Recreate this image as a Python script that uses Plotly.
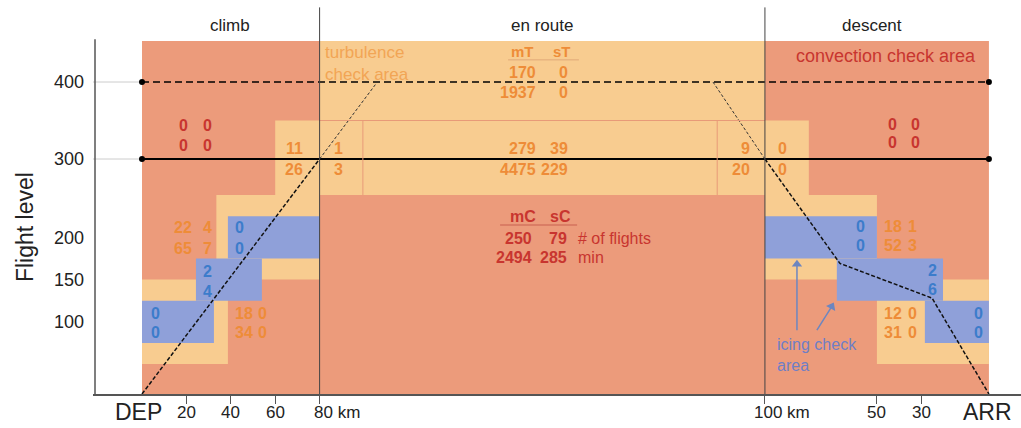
import numpy as np
import plotly.graph_objects as go

# ---------------- data ----------------
fl_ticks = [100, 150, 200, 300, 400]
climb_tick_km = [20, 40, 60]          # km from DEP
desc_tick_km = [50, 30]               # km to ARR

# flight profile (km, FL)
climb_path_km, climb_path_fl = [0, 80], [0, 300]
climb_ext_km, climb_ext_fl = [80, 106], [300, 400]
desc_path_km, desc_path_fl = [100, 66.5, 25.4, 0], [300, 169, 128, 0]
desc_ext_km, desc_ext_fl = [123.2, 100], [400, 300]

# check areas: (km from, km to, FL from, FL to)
climb_turb = [(0, 38.7, 50, 150), (33.5, 80, 150, 250), (60, 80, 250, 350)]
climb_ice = [(0, 32.4, 75, 125), (24.3, 54, 125, 175), (38.7, 80, 175, 225)]
desc_turb = [(100, 80.4, 250, 350), (100, 50, 150, 250), (50, 0, 50, 150)]
desc_ice = [(100, 50, 175, 225), (67.9, 20.5, 125, 175), (28.6, 0, 75, 125)]

# counts: (km, FL row1, FL row2, [row1, row2], colour)
climb_counts = [
    (18.5, 343, 317, ["0", "0"], "red"), (29.3, 343, 317, ["0", "0"], "red"),
    (68.5, 313, 286, ["11", "26"], "orange"),
    (18.5, 211, 187, ["22", "65"], "orange"), (29.3, 211, 187, ["4", "7"], "orange"),
    (43.7, 211, 187, ["0", "0"], "blue"),
    (29.3, 160, 136, ["2", "4"], "blue"),
    (5.9, 110, 87, ["0", "0"], "blue"),
    (46.0, 110, 87, ["18", "34"], "orange"), (54.5, 110, 87, ["0", "0"], "orange"),
]
desc_counts = [
    (43.0, 345, 321, ["0", "0"], "red"), (33.0, 345, 321, ["0", "0"], "red"),
    (92.0, 313, 286, ["0", "0"], "orange"),
    (57.4, 213, 190, ["0", "0"], "blue"),
    (43.0, 213, 190, ["18", "52"], "orange"), (34.0, 213, 190, ["1", "3"], "orange"),
    (25.0, 161, 138, ["2", "6"], "blue"),
    (43.0, 110, 87, ["12", "31"], "orange"), (34.0, 110, 87, ["0", "0"], "orange"),
    (4.5, 110, 87, ["0", "0"], "blue"),
]
enroute_T_hi = [["170", "0"], ["1937", "0"]]
enroute_T_mid = [["279", "39"], ["4475", "229"]]
enroute_T_left = ["1", "3"]
enroute_T_right = ["9", "20"]
enroute_C = [["250", "79", "# of flights"], ["2494", "285", "min"]]

# ---------------- styling / scales ----------------
SALMON = "#EC9B7B"
PEACH = "#F8CC90"
BLUE = "#8FA0D9"
C_OR = "#EE8C38"
C_RED = "#C8352F"
C_BLUE = "#3C7CCB"
C_ICE = "#6F7EC6"
TXT = "#222222"
FONT = "Liberation Sans, Arial, sans-serif"
COL = {"red": C_RED, "orange": C_OR, "blue": C_BLUE}
NUM = 16

KM_PX = 2.22
X_ARR = 381.5
DESC_K = 2.24 / KM_PX
X_ENR0 = 80.0
X_ENR1 = X_ARR - 100 * DESC_K

# schematic (non-linear) flight-level scale
FLK = [0, 50, 250, 300, 400, 450, 500]
PXK = [394, 364, 195, 159, 82, 41, 0]
YK = [394 - p for p in PXK]


def fy(fl):
    return float(np.interp(fl, FLK, YK))


def xd(d):
    return X_ARR - d * DESC_K


W, H = 1021, 428
ML, MB = 93, 34
x0 = (ML - 142) / KM_PX
x1 = (W - 142) / KM_PX

fig = go.Figure()
shapes = []


def rect(xa, xb, fa, fb, color):
    shapes.append(dict(type="rect", xref="x", yref="y", x0=xa, x1=xb,
                       y0=fy(fa), y1=fy(fb), fillcolor=color,
                       line=dict(width=0), layer="below"))


# background (convection check area)
rect(0, X_ARR, 0, 450, SALMON)
# en-route turbulence check area
rect(X_ENR0, X_ENR1, 250, 450, PEACH)
for a, b, fa, fb in climb_turb:
    rect(a, b, fa, fb, PEACH)
for a, b, fa, fb in desc_turb:
    rect(xd(a), xd(b), fa, fb, PEACH)
for a, b, fa, fb in climb_ice:
    rect(a, b, fa, fb, BLUE)
for a, b, fa, fb in desc_ice:
    rect(xd(a), xd(b), fa, fb, BLUE)


def line(xa, ya, xb, yb, color, width=1, dash=None, layer="above"):
    d = dict(color=color, width=width)
    if dash:
        d["dash"] = dash
    shapes.append(dict(type="line", xref="x", yref="y", x0=xa, x1=xb,
                       y0=ya, y1=yb, line=d, layer=layer))


# thin box lines in en-route
LC = "#E89A78"
line(X_ENR0, fy(350), X_ENR1, fy(350), LC, 1)
line(X_ENR0 + 19.5, fy(350), X_ENR0 + 19.5, fy(250), LC, 1)
line(X_ENR1 - 21.5, fy(350), X_ENR1 - 21.5, fy(250), LC, 1)

# light grid stubs
for fl in (300, 400):
    line(x0, fy(fl), 0, fy(fl), "#CCCCCC", 1, layer="below")

# y-axis line
line(x0 + 0.9, fy(0), x0 + 0.9, fy(452), "#555555", 1.5)
# phase dividers
line(X_ENR0, fy(0), X_ENR0, fy(491), "#444444", 1)
line(X_ENR1, fy(0), X_ENR1, fy(491), "#444444", 1)

# underline of table heads
line(164.9, fy(427), 196.8, fy(427), "#E0A878", 1)
line(161.3, fy(214.5), 196.0, fy(214.5), "#C86050", 1.2)

# arrows pointing to the icing area (shaft as line, head as marker)
ARROW = "#6C86C0"
arrows = [((85.7, 90), (85.7, 168)), ((76.8, 90), (70.2, 118))]
for (dt, ft), (dh, fh) in arrows:
    line(xd(dt), fy(ft), xd(dh), fy(fh), ARROW, 1.5)
hx = [xd(h[0]) for _, h in arrows]
hy = [fy(h[1]) for _, h in arrows]
fig.add_trace(go.Scatter(x=hx, y=hy, mode="markers", hoverinfo="skip",
                         marker=dict(symbol="triangle-up", size=9, color=ARROW,
                                     angle=[0, 28], line=dict(width=0))))

# reference levels FL400 (dashed) / FL300 (solid)
fig.add_trace(go.Scatter(x=[0, X_ARR], y=[fy(400), fy(400)], mode="lines+markers",
                         line=dict(color="black", width=1.6, dash="7px,4px"),
                         marker=dict(size=6, color="black"), hoverinfo="skip"))
fig.add_trace(go.Scatter(x=[0, X_ARR], y=[fy(300), fy(300)], mode="lines+markers",
                         line=dict(color="black", width=2),
                         marker=dict(size=6, color="black"), hoverinfo="skip"))

# flight profile
fig.add_trace(go.Scatter(x=climb_path_km, y=[fy(v) for v in climb_path_fl], mode="lines",
                         line=dict(color="#111111", width=1.5, dash="4px,2px"), hoverinfo="skip"))
fig.add_trace(go.Scatter(x=[xd(d) for d in desc_path_km], y=[fy(v) for v in desc_path_fl],
                         mode="lines", line=dict(color="#111111", width=1.5, dash="4px,2px"),
                         hoverinfo="skip"))
fig.add_trace(go.Scatter(x=climb_ext_km, y=[fy(v) for v in climb_ext_fl], mode="lines",
                         line=dict(color="#333333", width=1, dash="3px,2px"), hoverinfo="skip"))
fig.add_trace(go.Scatter(x=[xd(d) for d in desc_ext_km], y=[fy(v) for v in desc_ext_fl],
                         mode="lines", line=dict(color="#333333", width=1, dash="3px,2px"),
                         hoverinfo="skip"))

ann = []


def txt(x, fl, s, color, size=NUM, bold=True, xanchor="center", yref="y", xref="x",
        align="center"):
    ann.append(dict(x=x, y=fy(fl) if yref == "y" else fl, xref=xref, yref=yref,
                    text=f"<b>{s}</b>" if bold else s, showarrow=False,
                    xanchor=xanchor, yanchor="middle", align=align,
                    font=dict(family=FONT, size=size, color=color)))


for km, f1, f2, vals, c in climb_counts:
    txt(km, f1, vals[0], COL[c])
    txt(km, f2, vals[1], COL[c])
for d, f1, f2, vals, c in desc_counts:
    txt(xd(d), f1, vals[0], COL[c])
    txt(xd(d), f2, vals[1], COL[c])

# en-route turbulence table
txt(171.6, 437, "mT", C_OR, 15)
txt(189.2, 437, "sT", C_OR, 15)
for row, fl in zip(enroute_T_hi, (411, 386)):
    txt(178.4, fl, row[0], C_OR, xanchor="right")
    txt(193.0, fl, row[1], C_OR, xanchor="right")
for row, fl in zip(enroute_T_mid, (313, 286)):
    txt(178.4, fl, row[0], C_OR, xanchor="right")
    txt(193.0, fl, row[1], C_OR, xanchor="right")
for v, fl in zip(enroute_T_left, (313, 286)):
    txt(88.3, fl, v, C_OR)
for v, fl in zip(enroute_T_right, (313, 286)):
    txt(274.6, fl, v, C_OR, xanchor="right")

# en-route convection table
txt(171.6, 224, "mC", C_RED)
txt(188.7, 224, "sC", C_RED)
for row, fl in zip(enroute_C, (199, 176.6)):
    txt(176.6, fl, row[0], C_RED, xanchor="right")
    txt(192.2, fl, row[1], C_RED, xanchor="right")
    txt(195.5, fl, row[2], C_RED, bold=False, xanchor="left")

# area labels
txt(81.5, 423, "turbulence<br>check area", "#F2A555", 17, bold=False,
    xanchor="left", align="left")
txt(xd(4.9), 432, "convection check area", C_RED, 18, bold=False, xanchor="right")
txt(xd(95.5), 60.5, "icing check<br>area", C_ICE, 16, bold=False,
    xanchor="left", align="left")

# phase headers
txt(39.6, 469.5, "climb", TXT, 17, bold=False)
txt(180.0, 469.5, "en route", TXT, 17, bold=False)
txt(xd(52.2), 469.5, "descent", TXT, 17, bold=False)

# x labels
ylab = (394 - 412) / 394
txt(-1.5, ylab, "DEP", TXT, 23, bold=False, yref="paper")
txt(X_ARR - 0.5, ylab, "ARR", TXT, 23, bold=False, yref="paper")
for k in climb_tick_km:
    txt(k, ylab, str(k), TXT, 17, bold=False, yref="paper")
for k in desc_tick_km:
    txt(xd(k), ylab, str(k), TXT, 17, bold=False, yref="paper")
txt(X_ENR0 - 3.6, ylab, "80 km", TXT, 17, bold=False, xanchor="left", yref="paper")
txt(X_ENR1 - 5.8, ylab, "100 km", TXT, 17, bold=False, xanchor="left", yref="paper")

# y title
ann.append(dict(x=(25 - ML) / (W - ML), y=fy(212), xref="paper", yref="y",
                text="Flight level", showarrow=False, textangle=-90,
                xanchor="center", yanchor="middle",
                font=dict(family=FONT, size=23, color=TXT)))

xtick_vals = climb_tick_km + [X_ENR0, X_ENR1] + [xd(k) for k in desc_tick_km]

fig.update_layout(
    width=W, height=H, margin=dict(l=ML, r=0, t=0, b=MB),
    paper_bgcolor="white", plot_bgcolor="white", showlegend=False,
    shapes=shapes, annotations=ann,
    xaxis=dict(range=[x0, x1], showgrid=False, zeroline=False, showline=True,
               linecolor="#555555", linewidth=1.5, ticks="outside", ticklen=8,
               tickcolor="#555555", tickvals=xtick_vals, showticklabels=False,
               fixedrange=True),
    yaxis=dict(range=[0, 394], showgrid=False, zeroline=False, showline=False,
               tickvals=[fy(v) for v in fl_ticks], ticktext=[str(v) for v in fl_ticks],
               tickfont=dict(family=FONT, size=18, color=TXT), ticks="",
               ticklabelstandoff=8, fixedrange=True),
)

fig.write_html("out.html")
